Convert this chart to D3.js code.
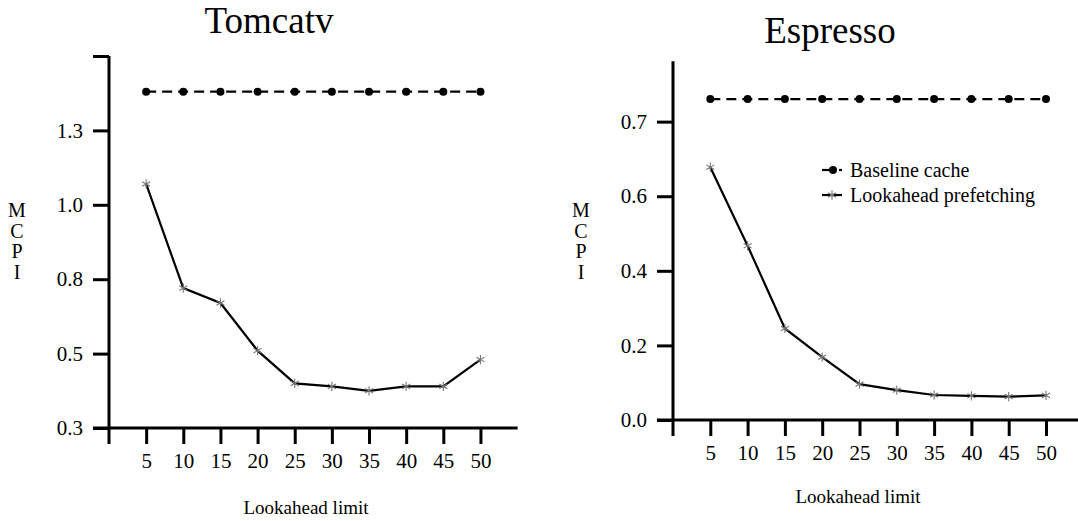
<!DOCTYPE html>
<html>
<head>
<meta charset="utf-8">
<script src="https://cdn.jsdelivr.net/npm/d3@7/dist/d3.min.js"></script>
<style>
  html, body { margin: 0; padding: 0; background: #fff; }
  svg { display: block; }
  svg text { font-family: "Liberation Serif", "Times New Roman", serif !important; fill: #000; }
</style>
</head>
<body>
<svg id="chart" width="1078" height="521"></svg>
<script>
// Lookahead limit values on the x axis
const lookahead = [5, 10, 15, 20, 25, 30, 35, 40, 45, 50];

// Tomcatv MCPI
const tomcatvBaseline = [1.38, 1.38, 1.38, 1.38, 1.38, 1.38, 1.38, 1.38, 1.38, 1.38];
const tomcatvPrefetch = [1.07, 0.72, 0.67, 0.51, 0.40, 0.39, 0.375, 0.39, 0.39, 0.48];

// Espresso MCPI
const espressoBaseline = [0.796, 0.796, 0.796, 0.796, 0.796, 0.796, 0.796, 0.796, 0.796, 0.796];
const espressoPrefetch = [0.627, 0.432, 0.227, 0.156, 0.089, 0.074, 0.062, 0.060, 0.058, 0.061];

// y-axis ticks and their printed labels
const tomcatvTicks = [0.25, 0.5, 0.75, 1.0, 1.25, 1.5];
const tomcatvTickLabels = ["0.3", "0.5", "0.8", "1.0", "1.3", ""];
const espressoTicks = [0, 0.185, 0.37, 0.555, 0.74];
const espressoTickLabels = ["0.0", "0.2", "0.4", "0.6", "0.7"];

const legendLabels = ["Baseline cache", "Lookahead prefetching"];

const svg = d3.select("#chart");
const TICK = 16;
const SERIF = '"Liberation Serif", "Times New Roman", serif';

function drawPanel(cfg) {
  const g = svg.append("g");
  const x = d3.scaleLinear().domain([0, 55]).range(cfg.xRange);
  const y = d3.scaleLinear().domain(cfg.yDomain).range(cfg.yRange);
  const x0 = x(0), yb = y(cfg.yDomain[0]);

  // axis lines (they cross at the origin and run one tick past it)
  g.append("line").attr("x1", x0).attr("x2", x0)
    .attr("y1", y(cfg.yDomain[1])).attr("y2", yb + TICK)
    .attr("stroke", "#000").attr("stroke-width", 3);
  g.append("line").attr("x1", x0 - TICK).attr("x2", x(55))
    .attr("y1", yb).attr("y2", yb)
    .attr("stroke", "#000").attr("stroke-width", 3);

  const yAxis = d3.axisLeft(y).tickValues(cfg.yTicks)
    .tickSize(TICK).tickPadding(10)
    .tickFormat((d, i) => cfg.yLabels[i]);
  const ya = g.append("g").attr("transform", `translate(${x0},0)`).call(yAxis)
    .attr("font-family", SERIF).attr("font-size", 21);
  ya.select(".domain").remove();
  ya.selectAll(".tick line").attr("stroke", "#000").attr("stroke-width", 3);
  ya.selectAll(".tick text").style("font-size", "21px").style("font-family", SERIF);

  const xAxis = d3.axisBottom(x).tickValues(lookahead)
    .tickSize(TICK).tickPadding(9).tickFormat(d3.format("d"));
  const xa = g.append("g").attr("transform", `translate(0,${yb})`).call(xAxis)
    .attr("font-family", SERIF).attr("font-size", 21);
  xa.select(".domain").remove();
  xa.selectAll(".tick line").attr("stroke", "#000").attr("stroke-width", 3);
  xa.selectAll(".tick text").style("font-size", "21px").style("font-family", SERIF);

  const line = d3.line().x((d, i) => x(lookahead[i])).y(d => y(d));

  // baseline cache: dashed line with filled dots
  g.append("path").datum(cfg.baseline).attr("d", line)
    .attr("fill", "none").attr("stroke", "#000").attr("stroke-width", 2.2)
    .attr("stroke-dasharray", "10,6");
  g.selectAll("circle.base").data(cfg.baseline).join("circle")
    .attr("class", "base")
    .attr("cx", (d, i) => x(lookahead[i])).attr("cy", d => y(d))
    .attr("r", 4).attr("fill", "#000");

  // lookahead prefetching: solid line with asterisks
  g.append("path").datum(cfg.prefetch).attr("d", line)
    .attr("fill", "none").attr("stroke", "#000").attr("stroke-width", 2.2);
  const star = d3.symbol().type(d3.symbolAsterisk).size(60);
  g.selectAll("path.star").data(cfg.prefetch).join("path")
    .attr("class", "star")
    .attr("transform", (d, i) => `translate(${x(lookahead[i])},${y(d)})`)
    .attr("d", star).attr("fill", "none").attr("stroke", "#777").attr("stroke-width", 1.1);

  // title
  g.append("text").attr("x", cfg.titleX).attr("y", cfg.titleY)
    .attr("text-anchor", "middle").style("font-size", "37px").text(cfg.title);

  // x-axis title
  g.append("text").attr("x", cfg.xTitleX).attr("y", cfg.xTitleY)
    .attr("text-anchor", "middle").style("font-size", "19px").text("Lookahead limit");

  // stacked y-axis title
  const yt = g.append("text").attr("text-anchor", "middle").style("font-size", "20px");
  "MCPI".split("").forEach((c, i) => {
    yt.append("tspan").attr("x", cfg.yTitleX).attr("y", 217 + i * 20.5).text(c);
  });

  return { g, x, y };
}

drawPanel({
  title: "Tomcatv", titleX: 269, titleY: 33,
  xTitleX: 306, xTitleY: 514, yTitleX: 17,
  xRange: [109, 517.6],
  yDomain: [0.25, 1.5], yRange: [428, 56],
  yTicks: tomcatvTicks, yLabels: tomcatvTickLabels,
  baseline: tomcatvBaseline, prefetch: tomcatvPrefetch
});

drawPanel({
  title: "Espresso", titleX: 830, titleY: 43,
  xTitleX: 858, xTitleY: 503, yTitleX: 581,
  xRange: [673, 673 + 55 * 7.46],
  yDomain: [0, 0.89], yRange: [420, 420 - 0.89 * 403.2],
  yTicks: espressoTicks, yLabels: espressoTickLabels,
  baseline: espressoBaseline, prefetch: espressoPrefetch
});

// legend
const lg = svg.append("g");
const ly = [170, 195];
lg.append("line").attr("x1", 822).attr("x2", 831).attr("y1", ly[0]).attr("y2", ly[0])
  .attr("stroke", "#000").attr("stroke-width", 2.2);
lg.append("circle").attr("cx", 833).attr("cy", ly[0]).attr("r", 4).attr("fill", "#000");
lg.append("line").attr("x1", 839).attr("x2", 842).attr("y1", ly[0]).attr("y2", ly[0])
  .attr("stroke", "#000").attr("stroke-width", 2.2);
lg.append("line").attr("x1", 822).attr("x2", 842).attr("y1", ly[1]).attr("y2", ly[1])
  .attr("stroke", "#000").attr("stroke-width", 2.2);
lg.append("path").attr("transform", `translate(832,${ly[1]})`)
  .attr("d", d3.symbol().type(d3.symbolAsterisk).size(60))
  .attr("fill", "none").attr("stroke", "#777").attr("stroke-width", 1.1);
legendLabels.forEach((t, i) => {
  lg.append("text").attr("x", 850).attr("y", ly[i] + 7).style("font-size", "20px").text(t);
});
</script>
</body>
</html>
